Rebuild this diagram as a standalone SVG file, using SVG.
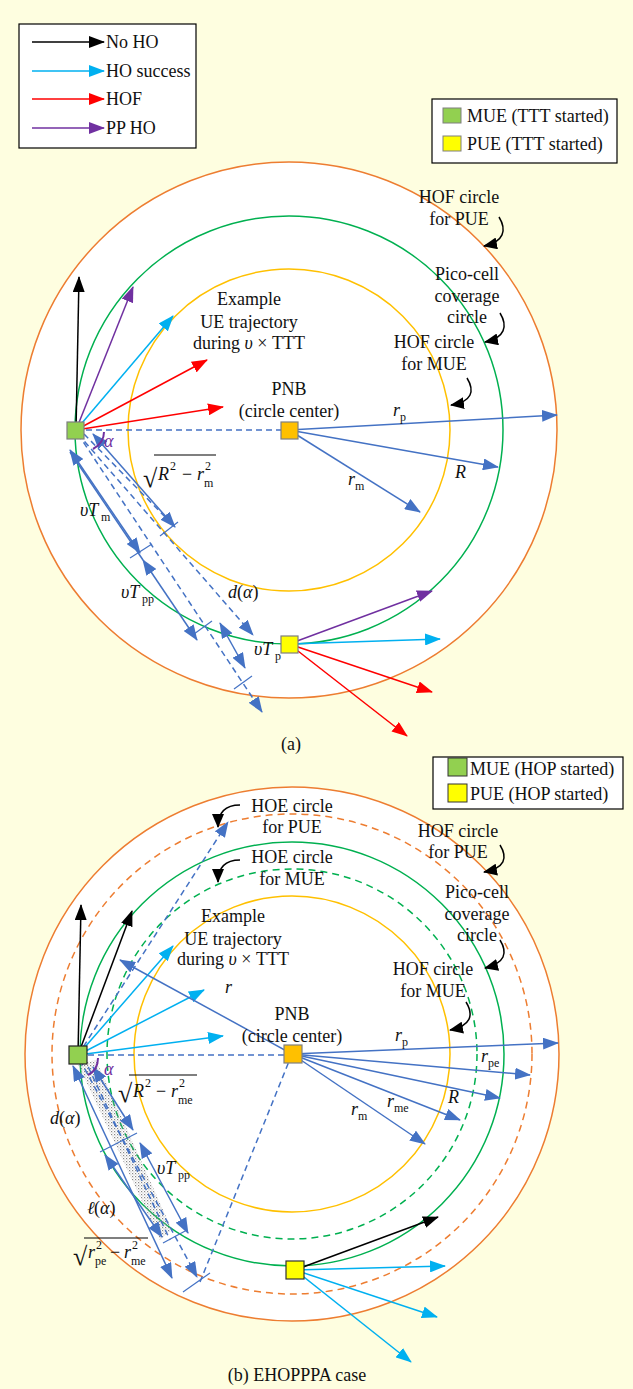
<svg xmlns="http://www.w3.org/2000/svg" width="633" height="1389" viewBox="0 0 633 1389">
<style>
text{font-family:"Liberation Serif","Times New Roman",serif;font-size:18px;fill:#111}
.c{text-anchor:middle}
.i{font-style:italic}
.s{font-size:12px}
.bl{stroke:#4472C4;stroke-width:1.5;fill:none}
.ds{stroke-dasharray:6 4}
.k{stroke:#000;stroke-width:1.5;fill:none}
.cy{stroke:#00B0F0;stroke-width:1.5;fill:none}
.rd{stroke:#FF0000;stroke-width:1.5;fill:none}
.pu{stroke:#7030A0;stroke-width:1.5;fill:none}
.tk{stroke:#4472C4;stroke-width:1.2}
</style>
<defs>
<marker id="mk" viewBox="0 0 16 12" refX="15" refY="6" markerWidth="16" markerHeight="12" markerUnits="userSpaceOnUse" orient="auto"><path d="M0,0L16,6L0,12z" fill="#000"/></marker>
<marker id="mc" viewBox="0 0 16 12" refX="15" refY="6" markerWidth="16" markerHeight="12" markerUnits="userSpaceOnUse" orient="auto"><path d="M0,0L16,6L0,12z" fill="#00B0F0"/></marker>
<marker id="mr" viewBox="0 0 16 12" refX="15" refY="6" markerWidth="16" markerHeight="12" markerUnits="userSpaceOnUse" orient="auto"><path d="M0,0L16,6L0,12z" fill="#FF0000"/></marker>
<marker id="mp" viewBox="0 0 16 12" refX="15" refY="6" markerWidth="16" markerHeight="12" markerUnits="userSpaceOnUse" orient="auto"><path d="M0,0L16,6L0,12z" fill="#7030A0"/></marker>
<marker id="mb" viewBox="0 0 16 12" refX="15" refY="6" markerWidth="16" markerHeight="12" markerUnits="userSpaceOnUse" orient="auto-start-reverse"><path d="M0,0L16,6L0,12z" fill="#4472C4"/></marker>
<marker id="mks" viewBox="0 0 14 12" refX="13" refY="6" markerWidth="14" markerHeight="12" markerUnits="userSpaceOnUse" orient="auto"><path d="M0,0L14,6L0,12z" fill="#000"/></marker>
<pattern id="dots" width="3" height="3" patternUnits="userSpaceOnUse"><rect x="0" y="0" width="1.2" height="1.2" fill="#888"/><rect x="1.5" y="1.5" width="1" height="1" fill="#aaa"/></pattern>
</defs>
<rect x="0" y="0" width="633" height="1389" fill="#FEFEE0"/>

<!-- ============ PART (a) ============ -->
<g id="circles-a">
<circle cx="289" cy="430" r="268" fill="#fff" stroke="#ED7D31" stroke-width="1.5"/>
<circle cx="289" cy="430" r="214" fill="none" stroke="#00B050" stroke-width="1.5"/>
<circle cx="289" cy="430" r="161" fill="none" stroke="#FFC000" stroke-width="1.5"/>
</g>

<g id="legend-a">
<rect x="19" y="24" width="177" height="124" fill="#fff" stroke="#000" stroke-width="1.2"/>
<line x1="32" y1="42" x2="104" y2="42" class="k" marker-end="url(#mk)"/>
<text x="106" y="48">No HO</text>
<line x1="32" y1="71" x2="104" y2="71" class="cy" marker-end="url(#mc)"/>
<text x="106" y="77">HO success</text>
<line x1="32" y1="99" x2="104" y2="99" class="rd" marker-end="url(#mr)"/>
<text x="106" y="105">HOF</text>
<line x1="32" y1="128" x2="104" y2="128" class="pu" marker-end="url(#mp)"/>
<text x="106" y="134">PP HO</text>
</g>

<g id="legend2-a">
<rect x="432" y="99" width="185" height="64" fill="#fff" stroke="#000" stroke-width="1.2"/>
<rect x="443" y="108" width="18" height="15" fill="#92D050" stroke="#7F7F7F" stroke-width="1"/>
<text x="467" y="122">MUE (TTT started)</text>
<rect x="443" y="136" width="18" height="15" fill="#FFFF00" stroke="#7F7F7F" stroke-width="1"/>
<text x="467" y="150">PUE (TTT started)</text>
</g>

<g id="connectors-a">
<path d="M499,217 C507,230 504,242 484,246" class="k" marker-end="url(#mks)"/>
<path d="M500,313 C508,326 505,338 485,342" class="k" marker-end="url(#mks)"/>
<path d="M467,378 C475,391 472,402 451,405" class="k" marker-end="url(#mks)"/>
<line x1="76" y1="430" x2="79" y2="277" class="k" marker-end="url(#mk)"/>
<line x1="76" y1="430" x2="133" y2="287" class="pu" marker-end="url(#mp)"/>
<line x1="76" y1="430" x2="173" y2="316" class="cy" marker-end="url(#mc)"/>
<line x1="76" y1="430" x2="207" y2="360" class="rd" marker-end="url(#mr)"/>
<line x1="76" y1="430" x2="223" y2="407" class="rd" marker-end="url(#mr)"/>
<line x1="76" y1="430" x2="289" y2="430" class="bl ds"/>
<line x1="289" y1="430" x2="557" y2="415" class="bl" marker-end="url(#mb)"/>
<line x1="289" y1="430" x2="498" y2="467" class="bl" marker-end="url(#mb)"/>
<line x1="289" y1="430" x2="420" y2="512" class="bl" marker-end="url(#mb)"/>
<line x1="78" y1="434" x2="253" y2="635" class="bl ds" marker-end="url(#mb)"/>
<line x1="78" y1="434" x2="262" y2="712" class="bl ds" marker-end="url(#mb)"/>
<line x1="84" y1="434" x2="175" y2="527" class="bl ds"/>
<line x1="93" y1="434" x2="175" y2="527" class="bl" marker-start="url(#mb)" marker-end="url(#mb)"/>
<line x1="70" y1="450" x2="140" y2="553" class="bl" marker-start="url(#mb)" marker-end="url(#mb)"/>
<line x1="143" y1="560" x2="197" y2="640" class="bl" marker-start="url(#mb)" marker-end="url(#mb)"/>
<line x1="220" y1="623" x2="245" y2="668" class="bl" marker-start="url(#mb)" marker-end="url(#mb)"/>
<line x1="70" y1="452" x2="143" y2="560" class="bl"/>
<line x1="130" y1="558" x2="152" y2="544" class="tk"/>
<line x1="160" y1="536" x2="178" y2="522" class="tk"/>
<line x1="194" y1="634" x2="212" y2="621" class="tk"/>
<line x1="234" y1="689" x2="252" y2="676" class="tk"/>
<path d="M104,432 Q104,443 93,449" stroke="#7030A0" stroke-width="2" fill="none"/>
<line x1="289" y1="644" x2="432" y2="591" class="pu" marker-end="url(#mp)"/>
<line x1="289" y1="644" x2="440" y2="639" class="cy" marker-end="url(#mc)"/>
<line x1="289" y1="644" x2="432" y2="692" class="rd" marker-end="url(#mr)"/>
<line x1="289" y1="644" x2="407" y2="736" class="rd" marker-end="url(#mr)"/>
</g>

<g id="nodes-a">
<g id="mue-a"><rect x="67" y="422" width="17" height="17" fill="#92D050" stroke="#7F7F7F" stroke-width="1.2"/></g>
<g id="pnb-a"><rect x="281" y="422" width="17" height="17" fill="#FFC000" stroke="#7F7F7F" stroke-width="1.2"/></g>
<g id="pue-a"><rect x="281" y="636" width="17" height="17" fill="#FFFF00" stroke="#7F7F7F" stroke-width="1.2"/></g>
</g>

<g id="labels-a">
<text class="c" x="459" y="203">HOF circle</text>
<text class="c" x="459" y="225">for PUE</text>
<text class="c" x="467" y="280">Pico-cell</text>
<text class="c" x="467" y="302">coverage</text>
<text class="c" x="467" y="323">circle</text>
<text class="c" x="434" y="348">HOF circle</text>
<text class="c" x="434" y="370">for MUE</text>
<text class="c" x="249" y="305">Example</text>
<text class="c" x="249" y="328">UE trajectory</text>
<text class="c" x="249" y="349">during <tspan class="i">υ</tspan> × TTT</text>
<text class="c" x="289" y="395">PNB</text>
<text class="c" x="289" y="417">(circle center)</text>
<text x="393" y="416" class="i">r</text><text x="400" y="421" class="s">p</text>
<text x="455" y="478" class="i">R</text>
<text x="348" y="485" class="i">r</text><text x="355" y="490" class="s">m</text>
<text x="104" y="447" class="i" style="fill:#7030A0">α</text>
<text x="143" y="487" style="font-size:26px">√</text>
<line x1="154" y1="455" x2="216" y2="455" stroke="#000" stroke-width="1.2"/>
<text x="158" y="480" class="i">R</text><text x="170" y="470" class="s">2</text>
<text x="182" y="480">−</text>
<text x="197" y="480" class="i">r</text><text x="205" y="470" class="s">2</text><text x="204" y="487" class="s">m</text>
<text x="80" y="516" class="i">υT</text><text x="101" y="521" class="s">m</text>
<text x="121" y="598" class="i">υT</text><text x="142" y="603" class="s">pp</text>
<text x="228" y="598" class="i">d</text><text x="237" y="598">(<tspan class="i">α</tspan>)</text>
<text x="254" y="655" class="i">υT</text><text x="275" y="660" class="s">p</text>
<text class="c" x="291" y="750">(a)</text>
</g>

<!-- ============ PART (b) ============ -->
<g id="circles-b">
<circle cx="292" cy="1054" r="267" fill="#fff" stroke="#ED7D31" stroke-width="1.5"/>
<circle cx="292" cy="1054" r="240" fill="none" stroke="#ED7D31" stroke-width="1.5" stroke-dasharray="7 5"/>
<circle cx="292" cy="1054" r="212" fill="none" stroke="#00B050" stroke-width="1.5"/>
<circle cx="292" cy="1054" r="185" fill="none" stroke="#00B050" stroke-width="1.5" stroke-dasharray="7 5"/>
<circle cx="292" cy="1054" r="158" fill="none" stroke="#FFC000" stroke-width="1.5"/>
</g>

<g id="legend-b">
<rect x="433" y="757" width="190" height="52" fill="#fff" stroke="#000" stroke-width="1.2"/>
<rect x="448" y="758" width="19" height="18" fill="#92D050" stroke="#333" stroke-width="1"/>
<text x="470" y="775">MUE (HOP started)</text>
<rect x="448" y="784" width="19" height="18" fill="#FFFF00" stroke="#333" stroke-width="1"/>
<text x="470" y="800">PUE (HOP started)</text>
</g>

<g id="connectors-b">
<path d="M240,805 C225,805 218,812 218,827" class="k" marker-end="url(#mks)"/>
<path d="M240,860 C225,860 218,867 218,882" class="k" marker-end="url(#mks)"/>
<path d="M500,845 C508,858 505,868 484,872" class="k" marker-end="url(#mks)"/>
<path d="M500,940 C508,953 505,963 485,968" class="k" marker-end="url(#mks)"/>
<path d="M466,1002 C474,1015 471,1026 450,1030" class="k" marker-end="url(#mks)"/>
<polygon points="78,1064 96,1060 172,1230 160,1240" fill="url(#dots)"/>
<line x1="78" y1="1055" x2="81" y2="905" class="k" marker-end="url(#mk)"/>
<line x1="78" y1="1055" x2="132" y2="911" class="k" marker-end="url(#mk)"/>
<line x1="78" y1="1055" x2="228" y2="822" class="bl ds" marker-end="url(#mb)"/>
<line x1="78" y1="1055" x2="173" y2="946" class="cy" marker-end="url(#mc)"/>
<line x1="78" y1="1055" x2="204" y2="990" class="cy" marker-end="url(#mc)"/>
<line x1="78" y1="1055" x2="223" y2="1036" class="cy" marker-end="url(#mc)"/>
<line x1="78" y1="1055" x2="292" y2="1055" class="bl ds"/>
<line x1="292" y1="1054" x2="120" y2="960" class="bl" marker-end="url(#mb)"/>
<line x1="292" y1="1054" x2="558" y2="1043" class="bl" marker-end="url(#mb)"/>
<line x1="292" y1="1054" x2="530" y2="1075" class="bl" marker-end="url(#mb)"/>
<line x1="292" y1="1054" x2="500" y2="1098" class="bl" marker-end="url(#mb)"/>
<line x1="292" y1="1054" x2="460" y2="1120" class="bl" marker-end="url(#mb)"/>
<line x1="292" y1="1054" x2="425" y2="1144" class="bl" marker-end="url(#mb)"/>
<line x1="292" y1="1054" x2="200" y2="1282" class="bl ds"/>
<line x1="80" y1="1060" x2="197" y2="1277" class="bl ds" marker-end="url(#mb)"/>
<line x1="84" y1="1058" x2="170" y2="1240" class="bl ds"/>
<line x1="73" y1="1066" x2="172" y2="1278" class="bl" marker-start="url(#mb)" marker-end="url(#mb)"/>
<line x1="93" y1="1067" x2="133" y2="1130" class="bl" marker-start="url(#mb)" marker-end="url(#mb)"/>
<line x1="140" y1="1143" x2="188" y2="1233" class="bl" marker-start="url(#mb)" marker-end="url(#mb)"/>
<line x1="105" y1="1155" x2="162" y2="1237" class="bl" marker-start="url(#mb)" marker-end="url(#mb)"/>
<line x1="100" y1="1152" x2="137" y2="1133" class="tk"/>
<line x1="163" y1="1243" x2="187" y2="1230" class="tk"/>
<line x1="183" y1="1292" x2="210" y2="1273" class="tk"/>
<path d="M98,1058 Q98,1070 88,1075" stroke="#7030A0" stroke-width="2" fill="none"/>
<line x1="295" y1="1270" x2="438" y2="1217" class="k" marker-end="url(#mk)"/>
<line x1="295" y1="1270" x2="445" y2="1266" class="cy" marker-end="url(#mc)"/>
<line x1="295" y1="1270" x2="437" y2="1317" class="cy" marker-end="url(#mc)"/>
<line x1="295" y1="1270" x2="411" y2="1362" class="cy" marker-end="url(#mc)"/>
</g>

<g id="nodes-b">
<g id="mue-b"><rect x="69" y="1046" width="18" height="18" fill="#92D050" stroke="#222" stroke-width="1.2"/></g>
<g id="pnb-b"><rect x="284" y="1045" width="18" height="18" fill="#FFC000" stroke="#7F7F7F" stroke-width="1.2"/></g>
<g id="pue-b"><rect x="286" y="1261" width="18" height="18" fill="#FFFF00" stroke="#333" stroke-width="1.2"/></g>
</g>

<g id="labels-b">
<text class="c" x="292" y="812">HOE circle</text>
<text class="c" x="292" y="833">for PUE</text>
<text class="c" x="292" y="863">HOE circle</text>
<text class="c" x="292" y="885">for MUE</text>
<text class="c" x="458" y="837">HOF circle</text>
<text class="c" x="458" y="858">for PUE</text>
<text class="c" x="477" y="898">Pico-cell</text>
<text class="c" x="477" y="920">coverage</text>
<text class="c" x="477" y="941">circle</text>
<text class="c" x="433" y="975">HOF circle</text>
<text class="c" x="433" y="997">for MUE</text>
<text class="c" x="233" y="922">Example</text>
<text class="c" x="233" y="945">UE trajectory</text>
<text class="c" x="233" y="965">during <tspan class="i">υ</tspan> × TTT</text>
<text x="225" y="993" class="i">r</text>
<text class="c" x="292" y="1020">PNB</text>
<text class="c" x="292" y="1042">(circle center)</text>
<text x="395" y="1041" class="i">r</text><text x="402" y="1046" class="s">p</text>
<text x="481" y="1062" class="i">r</text><text x="488" y="1067" class="s">pe</text>
<text x="448" y="1103" class="i">R</text>
<text x="387" y="1107" class="i">r</text><text x="394" y="1112" class="s">me</text>
<text x="351" y="1115" class="i">r</text><text x="358" y="1120" class="s">m</text>
<text x="104" y="1075" class="i" style="fill:#7030A0">α</text>
<text x="118" y="1102" style="font-size:26px">√</text>
<line x1="129" y1="1075" x2="197" y2="1075" stroke="#000" stroke-width="1.2"/>
<text x="133" y="1097" class="i">R</text><text x="145" y="1087" class="s">2</text>
<text x="156" y="1097">−</text>
<text x="171" y="1097" class="i">r</text><text x="179" y="1087" class="s">2</text><text x="178" y="1104" class="s">me</text>
<text x="50" y="1124" class="i">d</text><text x="59" y="1124">(<tspan class="i">α</tspan>)</text>
<text x="87" y="1214" class="i">ℓ</text><text x="94" y="1214">(<tspan class="i">α</tspan>)</text>
<text x="157" y="1174" class="i">υT</text><text x="178" y="1179" class="s">pp</text>
<text x="73" y="1265" style="font-size:26px">√</text>
<line x1="84" y1="1238" x2="148" y2="1238" stroke="#000" stroke-width="1.2"/>
<text x="88" y="1258" class="i">r</text><text x="96" y="1249" class="s">2</text><text x="95" y="1265" class="s">pe</text>
<text x="110" y="1258">−</text>
<text x="124" y="1258" class="i">r</text><text x="132" y="1249" class="s">2</text><text x="131" y="1265" class="s">me</text>
<text class="c" x="297" y="1381">(b) EHOPPPA case</text>
</g>
</svg>
